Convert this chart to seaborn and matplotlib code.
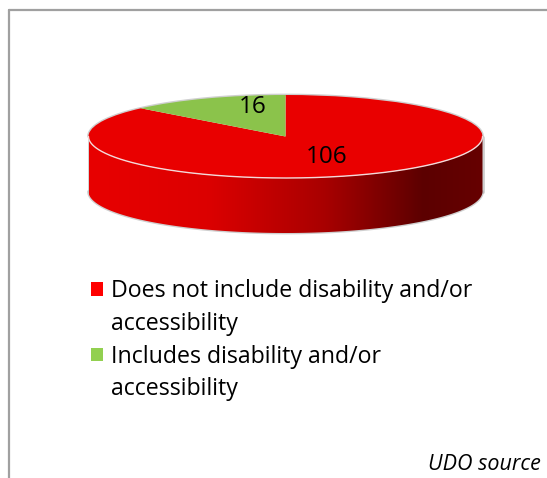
import numpy as np
import matplotlib
matplotlib.use("Agg")
import matplotlib.pyplot as plt
import seaborn as sns
from matplotlib.patches import Polygon, Patch
from matplotlib.colors import LinearSegmentedColormap
from matplotlib.lines import Line2D

# Survey result: plans that mention disability / accessibility
categories = ["Does not include disability and/or\naccessibility",
              "Includes disability and/or\naccessibility"]
counts = [106, 16]
top_colors = ["#E90000", "#8BC34B"]
legend_colors = ["#FF0000", "#92D050"]
source_note = "UDO source"

sns.set_theme(style="white")
plt.rcParams["font.family"] = ["Open Sans", "DejaVu Sans"]

W, H = 547, 478
fig = plt.figure(figsize=(W / 100, H / 100), dpi=100)
fig.patch.set_facecolor("white")

# ellipse of the pie's top face, in pixels from the top-left corner
cx, cy, a, b = 285.5, 136.5, 197.0, 41.5
depth = 55.0 / b

ax = fig.add_axes([0, 0, 1, 1])

# side wall of the disc with a left-to-right shading
t = np.linspace(np.pi, 2 * np.pi, 300)
top_arc = np.column_stack([np.cos(t), np.sin(t)])
bot_arc = np.column_stack([np.cos(t[::-1]), np.sin(t[::-1]) - depth])
side = Polygon(np.vstack([top_arc, bot_arc]), closed=True,
               facecolor="none", edgecolor="none")
ax.add_patch(side)
side_cmap = LinearSegmentedColormap.from_list(
    "side", [(0, "#E80000"), (0.3, "#DC0000"), (0.6, "#A80000"),
             (0.85, "#5C0000"), (1, "#660000")])
im = ax.imshow(np.linspace(0, 1, 256)[None, :], cmap=side_cmap,
               extent=(-1, 1, -1 - depth, 0), aspect="auto",
               origin="lower", zorder=1)
im.set_clip_path(side)

# soft outline around the whole disc
sil_t = np.linspace(0, np.pi, 300)
outline_kw = dict(color="#B0B0B0", lw=2.0, alpha=0.6, zorder=0)
ax.plot(np.cos(sil_t), np.sin(sil_t), **outline_kw)
ax.plot(np.cos(t), np.sin(t) - depth, **outline_kw)
ax.plot([-1, -1], [0, -depth], **outline_kw)
ax.plot([1, 1], [0, -depth], **outline_kw)

# top face
wedges, _ = ax.pie(counts, colors=top_colors, startangle=90, counterclock=False,
                   radius=1, center=(0, 0), frame=False,
                   wedgeprops=dict(linewidth=0, zorder=2))
ax.plot(np.cos(t), np.sin(t), color="#F4DADA", lw=1.0, zorder=3)

# value labels
label_pos = [(0.208, -0.506), (-0.165, 0.70)]
for (lx, ly), v in zip(label_pos, counts):
    ax.text(lx, ly, str(v), ha="center", va="center", fontsize=17.5,
            color="black", zorder=4)

ax.set_xlim((0 - cx) / a, (W - cx) / a)
ax.set_ylim((cy - H) / b, cy / b)
ax.set_aspect("auto")
ax.axis("off")

# legend: one row per text line, the swatch sits on the first line
handles, labels = [], []
for cat, col in zip(categories, legend_colors):
    for i, line in enumerate(cat.split("\n")):
        handles.append(Patch(facecolor=col if i == 0 else "none", edgecolor="none"))
        labels.append(line)
leg = fig.legend(handles, labels, loc="upper left",
                 bbox_to_anchor=(91 / W, 1 - 279 / H), frameon=False,
                 fontsize=16.7, handlelength=0.52, handleheight=0.52,
                 handletextpad=0.35, labelspacing=0.38, borderpad=0,
                 borderaxespad=0)
for txt in leg.get_texts():
    txt.set_color("black")

# source note
fig.text(541 / W, 1 - 470 / H, source_note, ha="right", va="baseline",
         fontsize=15.5, style="italic", color="black")

# chart frame (top and left edges)
frame_kw = dict(color="#A0A0A0", lw=1.6, transform=fig.transFigure)
fig.add_artist(Line2D([9 / W, 1], [1 - 10 / H, 1 - 10 / H], **frame_kw))
fig.add_artist(Line2D([9 / W, 9 / W], [1 - 10 / H, 0], **frame_kw))

fig.savefig("out.png", dpi=100, facecolor="white")
